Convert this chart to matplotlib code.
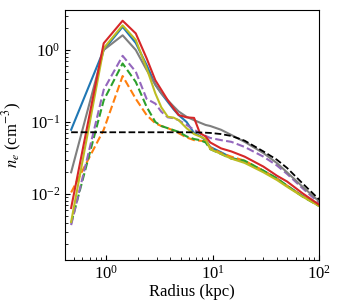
import numpy as np
import matplotlib.pyplot as plt

plt.rcParams['font.family'] = ['Liberation Serif', 'DejaVu Serif']
plt.rcParams['mathtext.fontset'] = 'stix'

# radius grid (kpc)
radius = [0.47, 0.95, 1.43, 1.9, 2.4, 2.9, 3.3, 3.8, 4.3, 4.8, 5.7, 6.7, 7.6,
          8.6, 9.5, 12, 15, 20, 30, 40, 50, 70, 100]

blue = [0.078, 1.0, 2.1, 1.25, 0.62, 0.33, 0.25, 0.19, 0.15, 0.125, 0.1, 0.07,
        0.064, 0.056, 0.045, 0.038, 0.032, 0.028, 0.021, 0.0165, 0.013, 0.0094, 0.0069]
gray = [0.020, 1.0, 1.6, 1.0, 0.53, 0.33, 0.25, 0.2, 0.165, 0.14, 0.118, 0.106,
        0.098, 0.091, 0.088, 0.078, 0.066, 0.053, 0.037, 0.027, 0.020, 0.0126, 0.0079]
olive = [0.0041, 1.06, 2.2, 1.38, 0.56, 0.25, 0.16, 0.118, 0.115, 0.106, 0.082, 0.068,
         0.063, 0.058, 0.042, 0.036, 0.031, 0.027, 0.020, 0.0157, 0.0126, 0.0092, 0.0068]
red = [0.0064, 1.24, 2.55, 1.7, 0.77, 0.38, 0.28, 0.2, 0.155, 0.125, 0.116, 0.114,
       0.07, 0.063, 0.052, 0.043, 0.039, 0.033, 0.024, 0.018, 0.0149, 0.0102, 0.0071]
purple = [0.0037, 0.28, 0.83, 0.5, 0.21, 0.18, 0.139, 0.116, 0.113, 0.106, 0.091, 0.078,
          0.07, 0.064, 0.06, 0.056, 0.053, 0.045, 0.033, 0.025, 0.019, 0.012, 0.0075]
green = [0.0039, 0.2, 0.65, 0.36, 0.163, 0.1, 0.088, 0.082, 0.077, 0.073, 0.063, 0.058,
         0.056, 0.052, 0.042, 0.036, 0.031, 0.029, 0.021, 0.0165, 0.013, 0.0092, 0.0068]
orange = [0.0105, 0.078, 0.435, 0.21, 0.125, 0.096, 0.088, 0.082, 0.076, 0.07, 0.061, 0.056,
          0.055, 0.054, 0.044, 0.037, 0.033, 0.029, 0.021, 0.0163, 0.013, 0.0093, 0.0069]
model = [0.072, 0.072, 0.072, 0.072, 0.072, 0.072, 0.072, 0.072, 0.072, 0.072, 0.072, 0.0718,
         0.0715, 0.071, 0.0705, 0.068, 0.064, 0.055, 0.039, 0.030, 0.023, 0.014, 0.0084]

fig = plt.figure(figsize=(3.37, 3.07), dpi=100)
ax = fig.add_axes([0.193, 0.153, 0.754, 0.816])

ax.plot(radius, blue, color='tab:blue', lw=1.5)
ax.plot(radius, orange, color='tab:orange', lw=1.5, ls='--')
ax.plot(radius, green, color='tab:green', lw=1.5, ls='--')
ax.plot(radius, purple, color='tab:purple', lw=1.5, ls='--')
ax.plot(radius, gray, color='tab:gray', lw=1.5)
ax.plot(radius, olive, color='tab:olive', lw=1.5)
ax.plot(radius, red, color='tab:red', lw=1.5)
ax.plot(radius, model, color='k', lw=1.3, ls='--')

ax.set_xscale('log')
ax.set_yscale('log')
ax.set_xlim(0.412, 100)
ax.set_ylim(1.21e-3, 3.65)
ax.tick_params(which='both', direction='in', labelsize=12)
ax.set_xlabel('Radius (kpc)', fontsize=12, labelpad=1)
ax.set_ylabel(r'$n_e$ (cm$^{-3}$)', fontsize=12)

plt.savefig('out.png')
